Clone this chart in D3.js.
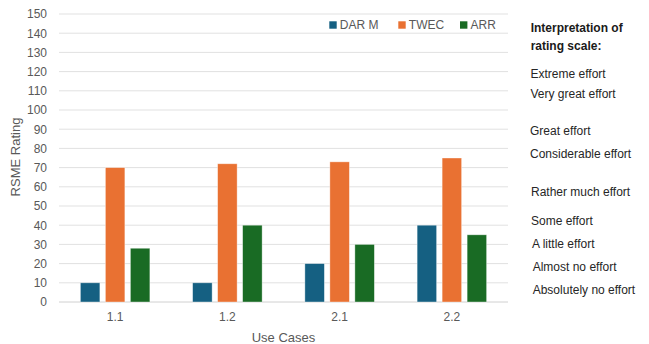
<!DOCTYPE html>
<html>
<head>
<meta charset="utf-8">
<script src="https://cdn.jsdelivr.net/npm/d3@7"></script>
<style>
  html, body { margin: 0; padding: 0; background: #ffffff; }
  svg { display: block; font-family: "Liberation Sans", Arial, sans-serif; }
</style>
</head>
<body>
<svg id="chart" width="649" height="344"></svg>
<script>
// Use cases on the x axis
const useCases = ["1.1", "1.2", "2.1", "2.2"];

// Series names and RSME ratings per use case
const seriesNames = ["DAR M", "TWEC", "ARR"];
const darM = [10, 10, 20, 40];
const twec = [70, 72, 73, 75];
const arr  = [28, 40, 30, 35];

// Y axis ticks
const yTicks = [0, 10, 20, 30, 40, 50, 60, 70, 80, 90, 100, 110, 120, 130, 140, 150];

// Interpretation of the rating scale (side notes)
const scaleTitle = ["Interpretation of", "rating scale:"];
const scaleLabels = [
  "Extreme effort",
  "Very great effort",
  "Great effort",
  "Considerable effort",
  "Rather much effort",
  "Some effort",
  "A little effort",
  "Almost no effort",
  "Absolutely no effort"
];

// ---- layout & style ----
const colors = ["#156082", "#E97132", "#196B24"];
const noteY = [74, 94, 130.7, 153.3, 191.7, 221, 244, 266.7, 289.3];
const noteX = [530.5, 530.5, 530, 530, 531, 531, 532, 532.7, 532.7];
const groupWidth = 69.5;

const svg = d3.select("#chart");
const plot = { left: 59, right: 508, top: 14, bottom: 302 };

const x = d3.scaleBand()
  .domain(useCases)
  .range([plot.left, plot.right]);

const xInner = d3.scaleBand()
  .domain(seriesNames)
  .range([0, groupWidth])
  .paddingInner(0.22);

const y = d3.scaleLinear()
  .domain([0, 150])
  .range([plot.bottom, plot.top]);

// gridlines
svg.append("g")
  .selectAll("line")
  .data(yTicks)
  .join("line")
  .attr("x1", plot.left)
  .attr("x2", plot.right)
  .attr("y1", d => y(d))
  .attr("y2", d => y(d))
  .attr("stroke", d => d === 0 ? "#d0d0d0" : "#e1e1e1")
  .attr("stroke-width", 1);

// y axis labels
const yAxis = d3.axisLeft(y).tickValues(yTicks).tickSize(0).tickPadding(0);
const gy = svg.append("g")
  .attr("transform", `translate(47,0)`)
  .call(yAxis);
gy.select(".domain").remove();
gy.selectAll("text")
  .attr("fill", "#595959")
  .style("font-size", "12px")
  .style("font-family", "'Liberation Sans', Arial, sans-serif");

// x axis labels
const xAxis = d3.axisBottom(x).tickSize(0).tickPadding(0);
const gx = svg.append("g")
  .attr("transform", `translate(0,${plot.bottom + 10})`)
  .call(xAxis);
gx.select(".domain").remove();
gx.selectAll("text")
  .attr("fill", "#595959")
  .style("font-size", "12px")
  .style("font-family", "'Liberation Sans', Arial, sans-serif");

// bars
const table = useCases.map((c, i) => ({
  useCase: c,
  values: [darM[i], twec[i], arr[i]]
}));

const groupOffset = (x.bandwidth() - groupWidth) / 2;

svg.append("g")
  .selectAll("g")
  .data(table)
  .join("g")
  .attr("transform", d => `translate(${x(d.useCase) + groupOffset},0)`)
  .selectAll("rect")
  .data(d => d.values.map((v, j) => ({ name: seriesNames[j], value: v, j })))
  .join("rect")
  .attr("x", d => xInner(d.name))
  .attr("width", xInner.bandwidth())
  .attr("y", d => y(d.value))
  .attr("height", d => y(0) - y(d.value))
  .attr("fill", d => colors[d.j])
  .attr("stroke", "#ffffff")
  .attr("stroke-opacity", 0.5)
  .attr("stroke-width", 0.75);

// axis titles
svg.append("text")
  .attr("transform", `translate(20,157) rotate(-90)`)
  .attr("text-anchor", "middle")
  .attr("fill", "#595959")
  .style("font-size", "13px")
  .text("RSME Rating");

svg.append("text")
  .attr("x", (plot.left + plot.right) / 2)
  .attr("y", 342)
  .attr("text-anchor", "middle")
  .attr("fill", "#595959")
  .style("font-size", "13px")
  .text("Use Cases");

// legend
const legendX = [329.3, 398.3, 460];
const legend = svg.append("g")
  .selectAll("g")
  .data(seriesNames)
  .join("g")
  .attr("transform", (d, i) => `translate(${legendX[i]},25)`);
legend.append("rect")
  .attr("x", 0)
  .attr("y", -3.7)
  .attr("width", 7.4)
  .attr("height", 7.4)
  .attr("fill", (d, i) => colors[i]);
legend.append("text")
  .attr("x", 10.5)
  .attr("dy", "0.36em")
  .attr("fill", "#595959")
  .style("font-size", "12px")
  .text(d => d);

// interpretation notes
svg.append("g")
  .selectAll("text")
  .data(scaleTitle)
  .join("text")
  .attr("x", 530.7)
  .attr("y", (d, i) => [28, 45.5][i])
  .attr("dy", "0.36em")
  .attr("fill", "#1a1a1a")
  .style("font-size", "12px")
  .style("font-weight", "bold")
  .text(d => d);

svg.append("g")
  .selectAll("text")
  .data(scaleLabels)
  .join("text")
  .attr("x", (d, i) => noteX[i])
  .attr("y", (d, i) => noteY[i])
  .attr("dy", "0.36em")
  .attr("fill", "#262626")
  .style("font-size", "12px")
  .text(d => d);
</script>
</body>
</html>
